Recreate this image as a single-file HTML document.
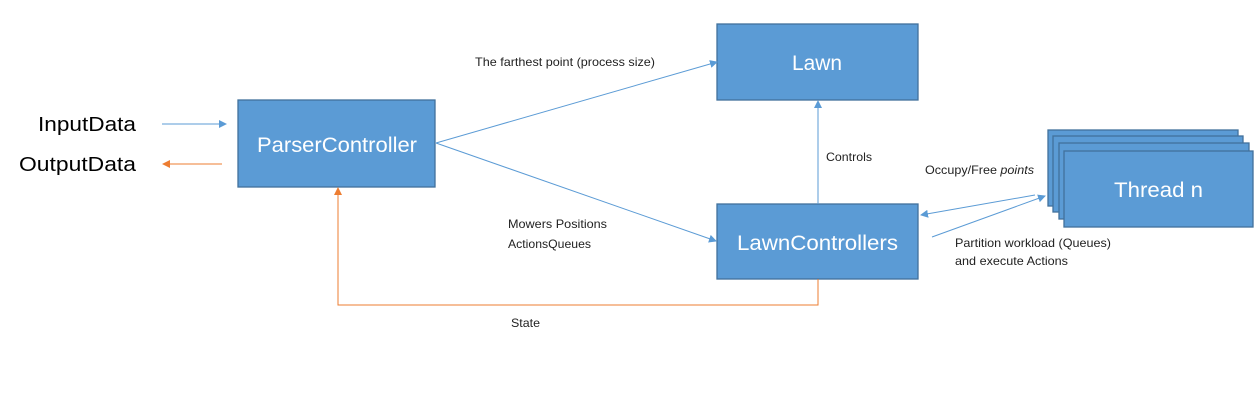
<!DOCTYPE html>
<html><head><style>body{margin:0;background:#fff}svg{display:block}text{font-family:"Liberation Sans",sans-serif}</style></head><body>
<svg width="1255" height="404" xmlns="http://www.w3.org/2000/svg">
<defs>
<marker id="b" markerWidth="8" markerHeight="8" refX="7" refY="4" orient="auto" markerUnits="userSpaceOnUse"><path d="M0,0 L8,4 L0,8 z" fill="#5b9bd5"/></marker>
<marker id="o" markerWidth="8" markerHeight="8" refX="7" refY="4" orient="auto" markerUnits="userSpaceOnUse"><path d="M0,0 L8,4 L0,8 z" fill="#ed7d31"/></marker>
</defs>
<g fill="#5b9bd5" stroke="#41719c" stroke-width="1.3">
<rect x="717" y="24" width="201" height="76"/>
<rect x="238" y="100" width="197" height="87"/>
<rect x="717" y="204" width="201" height="75"/>
<rect x="1048" y="130" width="190" height="76"/>
<rect x="1053" y="136" width="190" height="76"/>
<rect x="1059" y="143" width="190" height="76"/>
<rect x="1064" y="151" width="189" height="76"/>
</g>
<g fill="#fff" font-size="21" lengthAdjust="spacingAndGlyphs">
<text x="792" y="70" textLength="50" lengthAdjust="spacingAndGlyphs">Lawn</text>
<text x="257" y="152" textLength="160" lengthAdjust="spacingAndGlyphs">ParserController</text>
<text x="737" y="250" textLength="161" lengthAdjust="spacingAndGlyphs">LawnControllers</text>
<text x="1114" y="197" textLength="89" lengthAdjust="spacingAndGlyphs">Thread n</text>
</g>
<g fill="#000" font-size="20">
<text x="38" y="131" textLength="98" lengthAdjust="spacingAndGlyphs">InputData</text>
<text x="19" y="171" textLength="117" lengthAdjust="spacingAndGlyphs">OutputData</text>
</g>
<g fill="#222" font-size="12">
<text x="475" y="66" textLength="180" lengthAdjust="spacingAndGlyphs">The farthest point (process size)</text>
<text x="826" y="161" textLength="46" lengthAdjust="spacingAndGlyphs">Controls</text>
<text x="925" y="174" textLength="109" lengthAdjust="spacingAndGlyphs">Occupy/Free <tspan font-style="italic">points</tspan></text>
<text x="508" y="228" textLength="99" lengthAdjust="spacingAndGlyphs">Mowers Positions</text>
<text x="508" y="248" textLength="83" lengthAdjust="spacingAndGlyphs">ActionsQueues</text>
<text x="955" y="247" textLength="156" lengthAdjust="spacingAndGlyphs">Partition workload (Queues)</text>
<text x="955" y="265" textLength="113" lengthAdjust="spacingAndGlyphs">and execute Actions</text>
<text x="511" y="327" textLength="29" lengthAdjust="spacingAndGlyphs">State</text>
</g>
<g stroke="#5b9bd5" stroke-width="1" fill="none">
<line x1="162" y1="124" x2="226" y2="124" marker-end="url(#b)"/>
<line x1="436" y1="143" x2="717" y2="62" marker-end="url(#b)"/>
<line x1="436" y1="143" x2="716" y2="241" marker-end="url(#b)"/>
<line x1="818" y1="204" x2="818" y2="101" marker-end="url(#b)"/>
<line x1="1035" y1="195" x2="921" y2="215" marker-end="url(#b)"/>
<line x1="932" y1="237" x2="1045" y2="196" marker-end="url(#b)"/>
</g>
<g stroke="#ed7d31" stroke-width="1" fill="none">
<line x1="222" y1="164" x2="163" y2="164" marker-end="url(#o)"/>
<polyline points="818,279 818,305 338,305 338,188" marker-end="url(#o)"/>
</g>
</svg>
</body></html>
